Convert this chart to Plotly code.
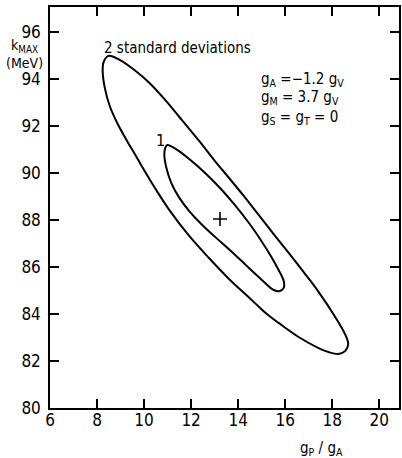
import plotly.graph_objects as go

# ---- data ----
# 2 standard deviation contour (g_P/g_A, k_MAX in MeV)
outer_x = [8.49, 8.96, 9.59, 10.23, 10.86, 11.50, 12.34, 12.98, 13.61, 14.24, 14.88, 15.51, 16.15, 16.78,
           17.42, 18.18, 18.56, 18.68, 18.56, 18.26, 17.84, 17.42, 16.57, 15.72, 15.22, 14.75, 14.16,
           13.61, 12.76, 11.92, 11.07, 10.57, 10.10, 9.68, 9.30, 8.88, 8.54, 8.33, 8.24, 8.28, 8.49]
outer_y = [94.98, 94.81, 94.38, 93.83, 93.15, 92.38, 91.36, 90.55, 89.79, 89.02, 88.21, 87.40, 86.60, 85.79,
           84.94, 83.79, 83.11, 82.72, 82.43, 82.30, 82.38, 82.55, 83.02, 83.62, 84.00, 84.43, 84.98,
           85.49, 86.38, 87.32, 88.43, 89.19, 89.96, 90.68, 91.32, 92.08, 92.85, 93.62, 94.30, 94.72, 94.98]
# 1 standard deviation contour
inner_x = [10.99, 11.41, 11.92, 12.55, 13.19, 13.82, 14.46, 14.96, 15.39, 15.72, 15.94, 15.94, 15.77,
           15.51, 15.01, 14.37, 13.69, 13.02, 12.43, 11.92, 11.50, 11.16, 10.95, 10.86, 10.90, 10.99]
inner_y = [91.19, 90.98, 90.59, 90.04, 89.40, 88.68, 87.87, 87.15, 86.47, 85.87, 85.40, 85.11, 84.98,
           85.02, 85.45, 86.04, 86.68, 87.28, 87.83, 88.38, 88.94, 89.57, 90.21, 90.77, 91.06, 91.19]
# best fit point
best_x = [13.23]
best_y = [88.04]

x_ticks = [6, 8, 10, 12, 14, 16, 18, 20]
y_ticks = [80, 82, 84, 86, 88, 90, 92, 94, 96]
x_range = [6, 20.84]
y_range = [80, 97.06]

FONT = "Liberation Sans Narrow, Arial Narrow, DejaVu Sans Condensed, Liberation Sans, sans-serif"

W, H = 402, 458
ML, MR, MT, MB = 50, 1, 7, 50
PW, PH = W - ML - MR, H - MT - MB


def px(xp):
    return (xp - ML) / PW


def py(yp):
    return (H - MB - yp) / PH


fig = go.Figure()
line_style = dict(color="black", width=2, shape="spline", smoothing=1.0)
fig.add_trace(go.Scatter(x=outer_x, y=outer_y, mode="lines", line=line_style, hoverinfo="skip"))
fig.add_trace(go.Scatter(x=inner_x, y=inner_y, mode="lines", line=line_style, hoverinfo="skip"))
fig.add_trace(go.Scatter(x=best_x, y=best_y, mode="markers",
                         marker=dict(symbol="cross-thin", size=10, line=dict(color="black", width=1.6)),
                         hoverinfo="skip"))

axis_common = dict(showgrid=False, zeroline=False, showline=True, linecolor="black", linewidth=1.5,
                   mirror="ticks", ticks="inside", ticklen=9, tickwidth=1.5, tickcolor="black",
                   tickfont=dict(family=FONT, size=17, color="black"))
fig.update_xaxes(range=x_range, tickvals=x_ticks, ticktext=[str(v) for v in x_ticks],
                 ticklabelstandoff=-4, **axis_common)
fig.update_yaxes(range=y_range, tickvals=y_ticks, ticktext=[str(v) for v in y_ticks],
                 ticklabelstandoff=4, **axis_common)

ann_font = dict(family=FONT, size=15, color="black")
annotations = [
    dict(text="2 standard deviations", x=px(102), y=py(48), xanchor="left", yanchor="middle"),
    dict(text="1", x=px(161), y=py(141), xanchor="center", yanchor="middle",
         font=dict(family=FONT, size=16, color="black")),
    dict(text="g<sub>A</sub> =−1.2 g<sub>V</sub>", x=px(260), y=py(79), xanchor="left", yanchor="middle"),
    dict(text="g<sub>M</sub> = 3.7 g<sub>V</sub>", x=px(260), y=py(98), xanchor="left", yanchor="middle"),
    dict(text="g<sub>S</sub> = g<sub>T</sub> = 0", x=px(260), y=py(118), xanchor="left", yanchor="middle"),
    dict(text="g<sub>P</sub> / g<sub>A</sub>", x=px(323), y=py(448), xanchor="center", yanchor="middle"),
    dict(text="k<sub>MAX</sub><br>(MeV)", x=px(24), y=py(54), xanchor="center", yanchor="middle",
         font=dict(family=FONT, size=14, color="black")),
]
for a in annotations:
    a.setdefault("font", ann_font)
    fig.add_annotation(xref="paper", yref="paper", showarrow=False, **a)

fig.update_layout(width=W, height=H, margin=dict(l=ML, r=MR, t=MT, b=MB, pad=0),
                  paper_bgcolor="white", plot_bgcolor="white", showlegend=False)

fig.write_html("out.html", config={"displayModeBar": False},
               post_script="document.body.style.margin='0';document.body.style.overflow='hidden';")
